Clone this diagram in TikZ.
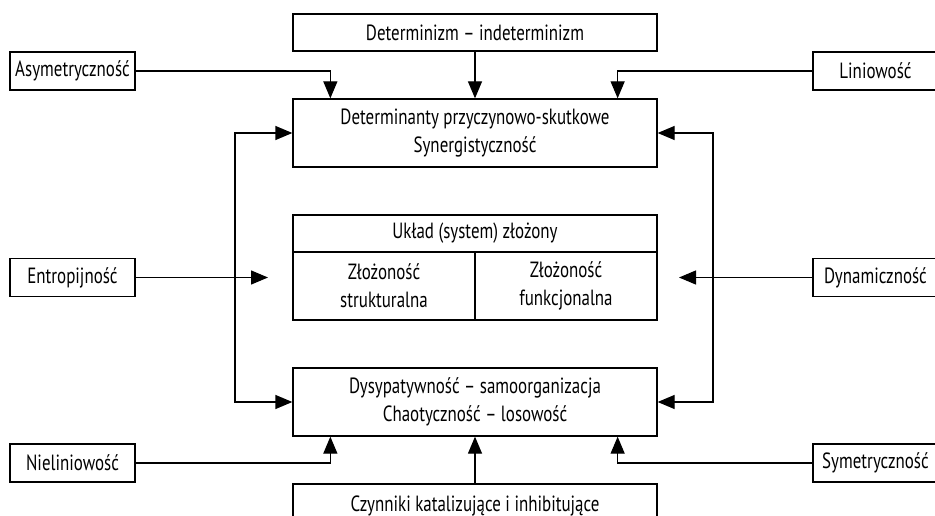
\documentclass[tikz,border=0pt]{standalone}
\usepackage{fontspec}
\setmainfont[FakeStretch=0.77]{PT Sans}
\usetikzlibrary{arrows.meta, positioning}

\begin{document}
\begin{tikzpicture}[
        x=1pt, y=-1pt,
        box/.style={draw, line width=1.3pt, inner sep=2pt, align=center,
                    font=\fontsize{22}{28}\selectfont},
        bigbox/.style={box, minimum width=364pt, minimum height=68pt},
        slimbox/.style={box, minimum width=364pt, minimum height=37pt},
        sidebox/.style={box, minimum width=125pt, minimum height=38pt},
        halfbox/.style={box, minimum width=182pt, minimum height=68pt},
        arr/.style={-{Triangle[length=17pt, width=14pt]}, line width=1.3pt}
    ]
        \useasboundingbox (0,0) rectangle (935,516);

        % central column
        \node[slimbox] (det) at (475,32.5) {Determinizm -- indeterminizm};
        \node[bigbox] (przycz) at (475,133) {Determinanty przyczynowo-skutkowe\\Synergistyczność};
        \node[slimbox] (uklad) at (475,233.5) {Układ (system) złożony};
        \node[halfbox] (strukt) at (384,286) {Złożoność\\strukturalna};
        \node[halfbox] (funkc) at (566,286) {Złożoność\\funkcjonalna};
        \node[bigbox] (dysyp) at (475,402) {Dysypatywność -- samoorganizacja\\Chaotyczność -- losowość};
        \node[box, minimum width=364pt, minimum height=44pt] (czyn) at (475,506)
            {Czynniki katalizujące i inhibitujące};

        % side properties
        \node[sidebox] (asym) at (72.5,71) {Asymetryczność};
        \node[sidebox] (linio) at (875.5,71) {Liniowość};
        \node[sidebox] (entro) at (72.5,277.5) {Entropijność};
        \node[sidebox] (dynam) at (875.5,277.5) {Dynamiczność};
        \node[sidebox] (nieli) at (72.5,463) {Nieliniowość};
        \node[sidebox] (symet) at (875.5,463) {Symetryczność};

        \coordinate (lvert) at (235,267);
        \coordinate (rvert) at (713,267);
        \coordinate (entip) at (268,277.5);
        \coordinate (dytip) at (679,277.5);

        \draw[arr] (det) -- (przycz);
        \draw[arr] (asym.east) -| ([xshift=38pt]przycz.north west);
        \draw[arr] (linio.west) -| ([xshift=-40pt]przycz.north east);
        \draw[arr] (lvert) |- (przycz.west);
        \draw[arr] (lvert) |- (dysyp.west);
        \draw[arr] (rvert) |- (przycz.east);
        \draw[arr] (rvert) |- (dysyp.east);
        \draw[arr] (entro.east) -- (entip);
        \draw[arr] (dynam.west) -- (dytip);
        \draw[arr] (nieli.east) -| ([xshift=38pt]dysyp.south west);
        \draw[arr] (symet.west) -| ([xshift=-40pt]dysyp.south east);
        \draw[arr] (czyn) -- (dysyp);
    \end{tikzpicture}
\end{document}
